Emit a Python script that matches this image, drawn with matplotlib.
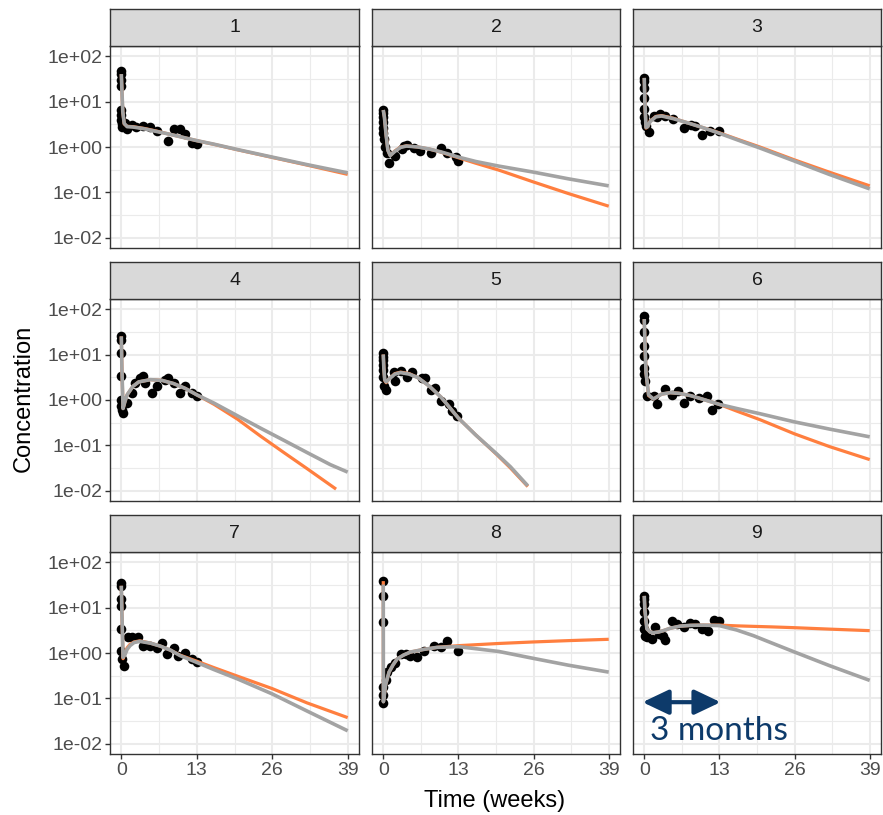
import numpy as np
import matplotlib
matplotlib.use("Agg")
import matplotlib.pyplot as plt
from matplotlib.ticker import FixedLocator, FixedFormatter, NullFormatter
from matplotlib.patches import FancyArrowPatch

plt.rcParams['font.family'] = ['Liberation Sans', 'DejaVu Sans']

# ---------------- data ----------------
panel_ids = ["1", "2", "3", "4", "5", "6", "7", "8", "9"]

# observed concentrations
obs_t1 = [0, 0, 0, 0, 0, 0, 0, 0.05, 0.1, 0.2, 0.6, 0.9, 1.8, 2.5, 3.8, 4.9, 6.1, 8.1, 9.0, 10.1, 11.0, 12.1, 13.0]
obs_c1 = [47, 40, 30, 22, 6.5, 5.0, 4.0, 3.5, 3.2, 2.8, 3.3, 2.5, 3.0, 2.7, 2.9, 2.8, 2.2, 1.35, 2.45, 2.5, 1.9, 1.25, 1.15]
obs_t2 = [0, 0, 0, 0, 0, 0, 0.1, 0.3, 0.6, 1.0, 2.1, 3.2, 3.6, 4.1, 5.3, 6.4, 8.2, 9.9, 11.0, 12.5, 13.0]
obs_c2 = [6.5, 5.5, 4.5, 3.5, 2.6, 2.0, 1.5, 1.0, 0.75, 0.45, 0.63, 0.9, 1.05, 1.1, 0.95, 0.82, 0.75, 0.97, 0.75, 0.6, 0.5]
obs_t3 = [0, 0, 0, 0, 0, 0, 0.1, 0.3, 0.75, 1.6, 2.2, 2.8, 3.6, 5.0, 6.8, 8.0, 8.8, 10.0, 11.4, 13.0]
obs_c3 = [33, 28, 20, 12, 7, 4.5, 3.5, 2.9, 2.1, 4.8, 4.6, 5.2, 4.8, 4.1, 2.6, 3.1, 2.9, 1.8, 2.2, 2.3]
obs_t4 = [0, 0, 0, 0, 0, 0, 0.1, 0.35, 0.9, 1.8, 2.4, 3.2, 3.8, 4.1, 5.2, 6.1, 7.5, 8.1, 9.0, 10.1, 11.0, 12.1, 13.0]
obs_c4 = [25, 21, 10.8, 3.3, 1.0, 0.74, 0.6, 0.52, 0.85, 1.45, 2.4, 3.0, 3.3, 2.4, 1.45, 2.0, 2.8, 3.0, 2.4, 1.45, 2.0, 1.45, 1.2]
obs_t5 = [0, 0, 0, 0, 0, 0, 0.1, 0.4, 1.8, 2.1, 3.0, 4.1, 5.0, 6.7, 7.3, 8.2, 9.0, 9.9, 11.3, 11.9, 12.8]
obs_c5 = [10.8, 9.0, 7.7, 6.0, 4.5, 3.2, 2.0, 1.7, 4.1, 2.6, 4.4, 3.2, 4.2, 3.0, 3.1, 1.7, 1.85, 0.93, 0.8, 0.57, 0.44]
obs_t6 = [0, 0, 0, 0, 0, 0, 0, 0.05, 0.5, 1.6, 2.2, 3.6, 4.8, 5.9, 6.8, 7.9, 9.4, 10.8, 11.8, 12.8]
obs_c6 = [69, 58, 32, 15, 9.3, 5.0, 3.7, 2.6, 1.25, 1.25, 0.81, 1.75, 1.32, 1.6, 0.88, 1.25, 1.1, 1.25, 0.6, 0.83]
obs_t7 = [0, 0, 0, 0, 0, 0, 0.1, 0.5, 1.2, 1.8, 2.9, 3.8, 4.9, 6.1, 7.0, 7.8, 9.0, 9.8, 11.0, 12.1, 13.0]
obs_c7 = [35, 29, 15, 11, 3.3, 1.1, 0.74, 0.52, 2.2, 2.3, 2.3, 1.44, 1.44, 1.3, 1.7, 0.93, 1.3, 0.88, 1.0, 0.73, 0.62]
obs_t8 = [0, 0, 0, 0, 0, 0, 0.4, 0.7, 1.3, 2.1, 3.0, 3.9, 4.7, 5.9, 7.0, 8.7, 9.9, 11.0, 13.0]
obs_c8 = [38, 18, 4.7, 0.18, 0.12, 0.081, 0.25, 0.38, 0.5, 0.6, 0.95, 0.95, 0.88, 0.8, 1.13, 1.45, 1.33, 1.8, 1.08]
obs_t9 = [0, 0, 0, 0, 0, 0, 0.2, 0.5, 1.3, 1.9, 2.5, 3.3, 3.6, 4.8, 5.6, 6.8, 7.9, 8.8, 9.9, 11.0, 12.0, 13.0]
obs_c9 = [18, 15, 12, 8, 5, 3.4, 2.4, 2.2, 2.0, 3.7, 2.6, 2.4, 1.9, 5.1, 4.3, 3.7, 4.5, 4.3, 3.4, 3.1, 5.3, 5.1]

# model A predictions (orange) and model B predictions (grey)
pred_t1 = [0, 0.1, 0.25, 0.5, 1, 2, 4, 6, 8, 10, 13, 16, 20, 26, 32, 39]
model_a1 = [40, 18, 6, 3.2, 2.85, 2.8, 2.55, 2.25, 1.95, 1.7, 1.38, 1.14, 0.87, 0.59, 0.4, 0.25]
model_b1 = [40, 18, 6, 3.3, 2.8, 2.75, 2.5, 2.2, 1.95, 1.7, 1.38, 1.15, 0.88, 0.6, 0.41, 0.27]

pred_t2 = [0, 0.2, 0.5, 0.8, 1.2, 2, 3, 4, 6, 8, 10, 13, 16, 20, 26, 32, 39]
model_a2 = [6.5, 4.5, 1.8, 0.85, 0.65, 0.82, 1.0, 1.06, 1.0, 0.9, 0.77, 0.58, 0.44, 0.31, 0.17, 0.095, 0.05]
model_b2 = [6.5, 4.5, 1.8, 0.85, 0.65, 0.8, 0.98, 1.05, 1.0, 0.9, 0.78, 0.6, 0.48, 0.38, 0.28, 0.2, 0.14]

pred_t3 = [0, 0.1, 0.3, 0.6, 1, 2, 3, 5, 7.5, 10, 13, 16, 20, 26, 32, 39]
model_a3 = [33, 10, 2.6, 2.8, 3.7, 4.7, 4.9, 4.3, 3.4, 2.7, 2.05, 1.5, 1.0, 0.52, 0.28, 0.14]
model_b3 = [33, 10, 2.7, 2.8, 3.6, 4.6, 4.8, 4.2, 3.4, 2.7, 2.0, 1.45, 0.95, 0.49, 0.25, 0.12]

pred_t4a = [0, 0.1, 0.3, 0.6, 1, 2, 3, 5, 7, 9, 11, 13, 16, 20, 24, 28, 32, 37]
model_a4 = [25, 5, 0.65, 0.9, 1.3, 2.0, 2.5, 2.8, 2.7, 2.3, 1.8, 1.3, 0.8, 0.38, 0.16, 0.07, 0.031, 0.011]
pred_t4b = [0, 0.1, 0.3, 0.6, 1, 2, 3, 5, 7, 9, 11, 13, 16, 20, 24, 28, 32, 36, 39]
model_b4 = [25, 5, 0.65, 0.9, 1.3, 2.0, 2.5, 2.8, 2.7, 2.3, 1.8, 1.3, 0.85, 0.45, 0.24, 0.13, 0.07, 0.038, 0.026]

pred_t5 = [0, 0.1, 0.25, 0.5, 1, 2, 3, 4.5, 6, 8, 10, 13, 16, 19.7, 22, 25]
model_a5 = [10, 5, 2.7, 2.4, 2.9, 3.8, 4.1, 3.8, 3.1, 2.0, 1.15, 0.4, 0.17, 0.062, 0.032, 0.0125]
model_b5 = [10, 5, 2.8, 2.5, 2.9, 3.7, 4.0, 3.7, 3.1, 2.0, 1.15, 0.4, 0.17, 0.064, 0.034, 0.013]

pred_t6 = [0, 0.1, 0.3, 0.75, 1.6, 3, 4.5, 6, 8, 10, 13, 16, 20, 26, 32, 39]
model_a6 = [60, 20, 4, 1.25, 1.05, 1.35, 1.45, 1.4, 1.25, 1.05, 0.8, 0.57, 0.37, 0.18, 0.095, 0.049]
model_b6 = [60, 20, 4, 1.3, 1.05, 1.35, 1.45, 1.4, 1.25, 1.05, 0.8, 0.65, 0.5, 0.33, 0.23, 0.155]

pred_t7 = [0, 0.1, 0.3, 0.6, 1, 1.5, 2.2, 3.2, 5, 6.7, 8.5, 10.1, 13, 16, 20, 26, 32, 39]
model_a7 = [30, 8, 0.75, 0.95, 1.3, 1.55, 1.75, 1.85, 1.65, 1.42, 1.15, 0.9, 0.66, 0.475, 0.31, 0.165, 0.08, 0.038]
model_b7 = [30, 8, 0.8, 0.9, 1.2, 1.45, 1.7, 1.8, 1.65, 1.42, 1.15, 0.88, 0.62, 0.43, 0.27, 0.126, 0.053, 0.0195]

pred_t8 = [0, 0.02, 0.1, 0.4, 1, 1.7, 2.4, 3.5, 4.7, 7, 9.3, 13, 20, 26, 32, 39]
model_a8 = [38, 0.085, 0.1, 0.2, 0.38, 0.55, 0.74, 0.9, 1.05, 1.2, 1.33, 1.45, 1.62, 1.75, 1.87, 2.0]
model_b8 = [32, 0.085, 0.1, 0.2, 0.38, 0.55, 0.74, 0.9, 1.05, 1.2, 1.33, 1.38, 1.08, 0.76, 0.54, 0.38]

pred_t9 = [0, 0.1, 0.45, 1, 1.6, 2.5, 3.3, 4.5, 6.2, 8, 10.2, 13, 16, 18.9, 22, 26, 32, 39]
model_a9 = [18, 9, 3.4, 2.9, 2.8, 2.9, 3.1, 3.5, 3.9, 4.05, 4.1, 4.1, 3.95, 3.85, 3.75, 3.6, 3.35, 3.1]
model_b9 = [18, 9, 3.4, 2.9, 2.8, 2.9, 3.1, 3.5, 3.9, 4.05, 4.1, 4.0, 3.2, 2.4, 1.67, 1.05, 0.53, 0.25]

x_ticks = [0, 13, 26, 39]
x_tick_labels = ["0", "13", "26", "39"]
y_ticks = [1e-2, 1e-1, 1e0, 1e1, 1e2]
y_tick_labels = ["1e-02", "1e-01", "1e+00", "1e+01", "1e+02"]

span_label = "3 months"
span_weeks = (0, 13)

panels = [
    (obs_t1, obs_c1, pred_t1, model_a1, pred_t1, model_b1),
    (obs_t2, obs_c2, pred_t2, model_a2, pred_t2, model_b2),
    (obs_t3, obs_c3, pred_t3, model_a3, pred_t3, model_b3),
    (obs_t4, obs_c4, pred_t4a, model_a4, pred_t4b, model_b4),
    (obs_t5, obs_c5, pred_t5, model_a5, pred_t5, model_b5),
    (obs_t6, obs_c6, pred_t6, model_a6, pred_t6, model_b6),
    (obs_t7, obs_c7, pred_t7, model_a7, pred_t7, model_b7),
    (obs_t8, obs_c8, pred_t8, model_a8, pred_t8, model_b8),
    (obs_t9, obs_c9, pred_t9, model_a9, pred_t9, model_b9),
]

# ---------------- layout ----------------
W, H = 883, 815
fig = plt.figure(figsize=(W / 100, H / 100), dpi=100)
fig.patch.set_facecolor("white")

col_x = [(110, 359), (372, 620), (633, 881)]
row_y = [(9, 46, 248), (262, 299, 501), (515, 552, 754)]  # strip top, panel top, panel bottom


def rect(x0, y0, x1, y1):
    return [x0 / W, 1 - y1 / H, (x1 - x0) / W, (y1 - y0) / H]


ORANGE = "#FF7F3F"
GREY = "#A3A3A3"
FRAME = "#333333"
GRID = "#EBEBEB"

axes = []
for i, (ot, oc, ta, ca, tb, cb) in enumerate(panels):
    r, c = divmod(i, 3)
    x0, x1 = col_x[c]
    st, pt, pb = row_y[r]

    ax = fig.add_axes(rect(x0, pt, x1, pb))
    ax.set_yscale("log")
    ax.set_xlim(-1.95, 40.95)
    ax.set_ylim(10 ** -2.22, 10 ** 2.22)
    ax.set_facecolor("white")

    ax.xaxis.set_major_locator(FixedLocator(x_ticks))
    ax.xaxis.set_minor_locator(FixedLocator([6.5, 19.5, 32.5]))
    ax.yaxis.set_major_locator(FixedLocator(y_ticks))
    ax.yaxis.set_minor_locator(FixedLocator([10 ** -1.5, 10 ** -0.5, 10 ** 0.5, 10 ** 1.5]))
    ax.xaxis.set_minor_formatter(NullFormatter())
    ax.yaxis.set_minor_formatter(NullFormatter())

    ax.grid(which="major", color=GRID, lw=1.5)
    ax.grid(which="minor", color=GRID, lw=0.8)
    ax.set_axisbelow(True)

    for sp in ax.spines.values():
        sp.set_color(FRAME)
        sp.set_linewidth(1.0)

    ax.tick_params(which="minor", length=0)
    ax.tick_params(which="major", length=3.5, width=1.0, color=FRAME,
                   labelcolor="#4D4D4D", labelsize=14, pad=2)

    if c == 0:
        ax.yaxis.set_major_formatter(FixedFormatter(y_tick_labels))
    else:
        ax.tick_params(axis="y", which="major", length=0, labelleft=False)
    if r == 2:
        ax.xaxis.set_major_formatter(FixedFormatter(x_tick_labels))
    else:
        ax.tick_params(axis="x", which="major", length=0, labelbottom=False)

    ax.scatter(ot, oc, s=48, color="black", zorder=3, linewidths=0)
    ax.plot(ta, ca, color=ORANGE, lw=2.3, zorder=4, solid_capstyle="butt")
    ax.plot(tb, cb, color=GREY, lw=2.6, zorder=5, solid_capstyle="butt")

    # facet strip
    sax = fig.add_axes(rect(x0, st, x1, pt))
    sax.set_facecolor("#D9D9D9")
    sax.set_xticks([])
    sax.set_yticks([])
    for sp in sax.spines.values():
        sp.set_color(FRAME)
        sp.set_linewidth(1.0)
    sax.text(0.5, 0.5, panel_ids[i], ha="center", va="center",
             fontsize=14, color="#1A1A1A", transform=sax.transAxes)
    axes.append(ax)

# axis titles
fig.text(495 / W, 1 - 801 / H, "Time (weeks)", ha="center", va="center",
         fontsize=17, color="black")
fig.text(24 / W, 1 - 398 / H, "Concentration", ha="center", va="center",
         rotation=90, fontsize=17, color="black")

# span marker in the last panel
ax9 = axes[8]
BLUE = "#0D3A6A"
arrow = FancyArrowPatch((span_weeks[0] - 0.3, 0.083), (span_weeks[1] + 0.2, 0.083),
                        arrowstyle="<|-|>,head_length=0.8,head_width=0.38",
                        mutation_scale=20, lw=3.0, color=BLUE,
                        shrinkA=0, shrinkB=0, zorder=6)
ax9.add_patch(arrow)
ax9.text(1.0, 0.0123, span_label, ha="left", va="baseline", fontsize=24,
         family=["Lato", "DejaVu Sans"], color=BLUE, zorder=6)

fig.savefig("out.png", dpi=100)
